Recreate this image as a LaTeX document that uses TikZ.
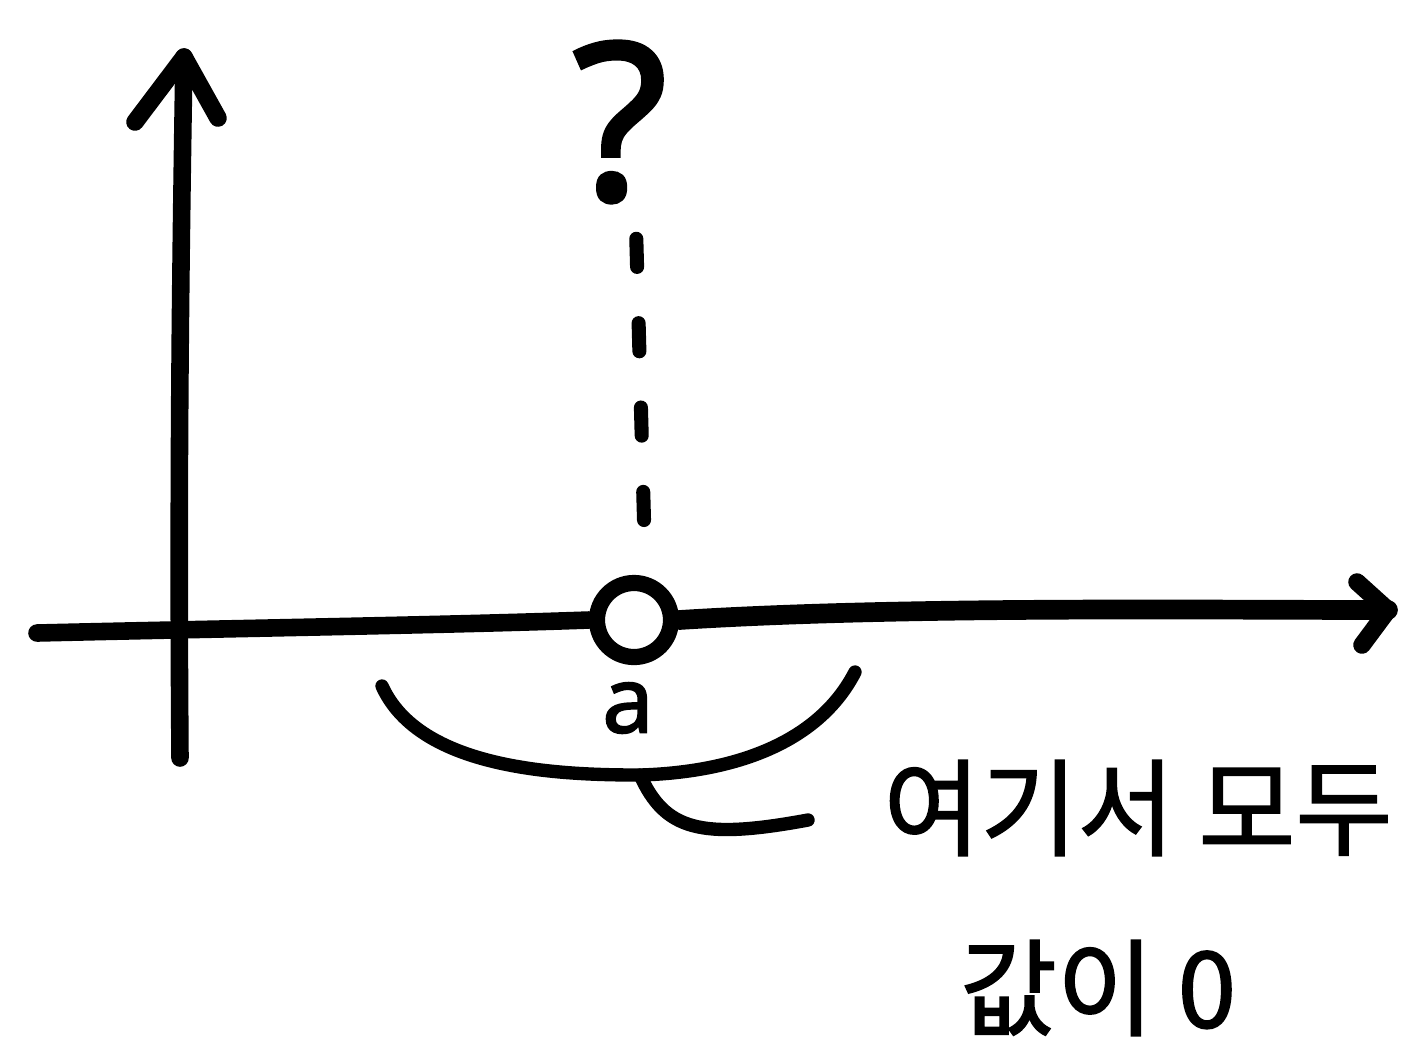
\documentclass[tikz,border=0pt]{standalone}
\usepackage{fontspec}
\newfontfamily\kr{Noto Sans CJK KR}[FakeBold=1.5]
\newfontfamily\lat{Noto Sans}[FakeBold=2]
\usetikzlibrary{calc}
\begin{document}
\begin{tikzpicture}[x=0.01cm,y=-0.01cm,
  stroke/.style={line width=5pt,line cap=round,line join=round},
  thinstroke/.style={line width=3.8pt,line cap=round,line join=round},
  lbl/.style={inner sep=0pt,font=\kr}]
\useasboundingbox (0,0) rectangle (1425,1060);
% vertical axis
\coordinate (vb) at (180,758);
\coordinate (vt) at (184,57);
\draw[stroke] (vb) .. controls (178,500) and (180,300) .. (vt);
\draw[stroke] (135,122) -- (vt) -- (218,118);
% horizontal axis
\coordinate (hl) at (37,633);
\coordinate (hr) at (1388,610);
\node[circle,draw,line width=4.6pt,inner sep=0pt,minimum size=0.74cm] (o) at (634,620) {};
\draw[stroke] (hl) .. controls (250,628) and (450,625) .. (o.west);
\draw[line width=5.6pt,line cap=round] (o.east) .. controls (900,606) and (1200,610) .. (hr);
\draw[stroke] (1357,582) -- (hr) -- (1362,645);
% question mark and dashed line
\node[lbl,font=\lat\fontsize{62}{70}\selectfont] (q) at (620,122) {?};
\coordinate (dt) at (636,228);
\coordinate (db) at (644,520);
\draw[line width=4pt,line cap=round,dash pattern=on 8pt off 16pt] (db) -- (dt);
% label a
\node[lbl,font=\lat\fontsize{26}{30}\selectfont] (a) at (628,708) {a};
% brace
\coordinate (bl) at (382,686);
\coordinate (bm) at (640,775);
\coordinate (br) at (855,672);
\draw[thinstroke] (bl) .. controls (420,770) and (560,775) .. (bm) .. controls (740,772) and (820,740) .. (br);
\coordinate (he) at (808,820);
\draw[thinstroke] (bm) .. controls (665,830) and (700,840) .. (he);
% texts
\node[lbl,font=\kr\fontsize{30}{36}\selectfont] (t1) at (1138,808) {여기서 모두};
\node[lbl,font=\kr\fontsize{30}{36}\selectfont] (t2) at (1098,988) {값이 0};
\end{tikzpicture}
\end{document}
